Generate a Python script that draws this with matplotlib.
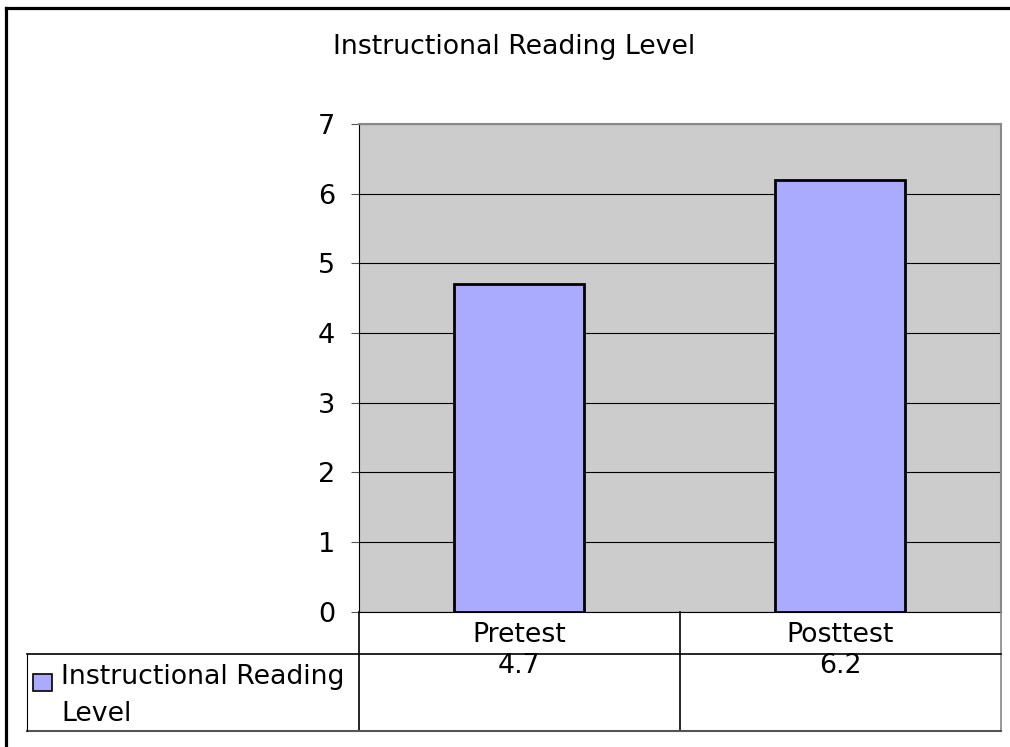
import numpy as np
import matplotlib.pyplot as plt
from matplotlib.lines import Line2D
from matplotlib.patches import Rectangle
from matplotlib.transforms import blended_transform_factory

# Data
title = "Instructional Reading Level"
series_name = "Instructional Reading\nLevel"
categories = ["Pretest", "Posttest"]
values = [4.7, 6.2]

W, H = 1010, 747

def fx(px):
    return px / W

def fy(py):
    return 1 - py / H

fig = plt.figure(figsize=(10.1, 7.47), dpi=100)

# plot area (pixel box of the reference)
left, right, top, bottom = 358.5, 1001, 124, 611.5
ax = fig.add_axes([fx(left), fy(bottom), fx(right - left), (bottom - top) / H])
ax.set_facecolor("#CCCCCC")

x = np.arange(len(categories))
ax.bar(x, values, width=0.405, color="#AAAAFF", edgecolor="black", linewidth=2, zorder=3)
ax.set_xlim(-0.5, len(categories) - 0.5)
ax.set_ylim(0, 7)
ax.set_yticks(range(8))
ax.set_xticks([])
ax.yaxis.grid(True, color="black", linewidth=0.8)
ax.set_axisbelow(True)
ax.tick_params(axis="y", length=6, width=0.8, color="#555555", labelsize=19.5, pad=11)
for s in ["top", "right"]:
    ax.spines[s].set_color("#888888")
    ax.spines[s].set_linewidth(1.5)
for s in ["left", "bottom"]:
    ax.spines[s].set_color("black")
    ax.spines[s].set_linewidth(0.8)

fs = 19.3
fig.text(fx(514), fy(47), title, ha="center", va="center", fontsize=fs)

# data table under the plot: x in data coords, y in figure coords
tr = blended_transform_factory(ax.transData, fig.transFigure)
row1, row2 = 654, 731
x_lo, x_hi = -0.5, len(categories) - 0.5
for xb in np.arange(x_lo, x_hi + 1):
    col = "#888888" if xb == x_hi else "black"
    fig.add_artist(Line2D([xb, xb], [fy(bottom), fy(row2)], transform=tr, color=col, lw=1.2))
fig.add_artist(Line2D([fx(27), fx(right)], [fy(row1), fy(row1)], color="black", lw=1.2))
fig.add_artist(Line2D([fx(27), fx(right)], [fy(row2), fy(row2)], color="#555555", lw=1.5))
fig.add_artist(Line2D([fx(27), fx(27)], [fy(row1), fy(row2)], color="black", lw=0.8))

for i, (c, v) in enumerate(zip(categories, values)):
    fig.text(i, fy(635), c, transform=tr, ha="center", va="center", fontsize=fs)
    fig.text(i, fy(653), f"{v}", transform=tr, ha="center", va="top", fontsize=fs)

fig.add_artist(Rectangle((fx(33), fy(691)), fx(19), 17 / H, facecolor="#AAAAFF",
                         edgecolor="black", lw=1.2, transform=fig.transFigure))
fig.text(fx(61), fy(664), series_name, ha="left", va="top", fontsize=fs, linespacing=1.55)

# chart border (top and left edges)
fig.add_artist(Line2D([fx(5.5), fx(W)], [fy(7.5), fy(7.5)], color="black", lw=2.3))
fig.add_artist(Line2D([fx(5.5), fx(5.5)], [fy(7.5), 0], color="black", lw=2.3))

fig.savefig("out.png", dpi=100)
